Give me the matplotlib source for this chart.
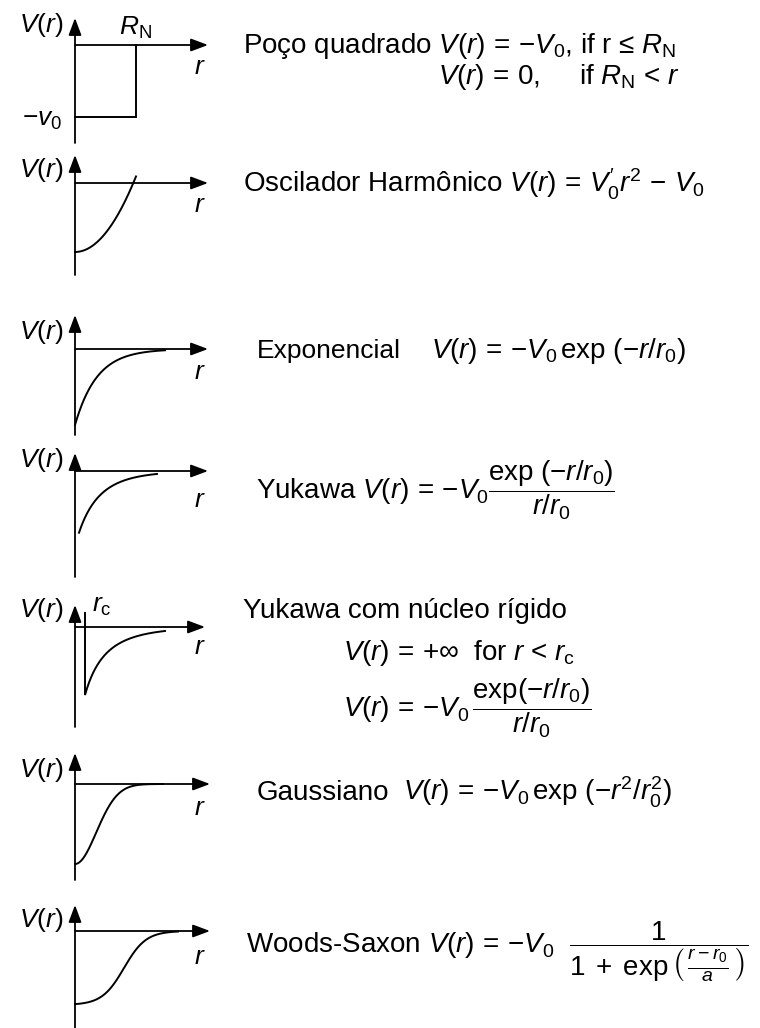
import numpy as np
import matplotlib
matplotlib.use("Agg")
import matplotlib.pyplot as plt

plt.rcParams["font.family"] = ["Liberation Sans", "DejaVu Sans"]
plt.rcParams["mathtext.fontset"] = "custom"
plt.rcParams["mathtext.rm"] = "Liberation Sans"
plt.rcParams["mathtext.it"] = "Liberation Sans:italic"
plt.rcParams["mathtext.bf"] = "Liberation Sans:bold"
plt.rcParams["mathtext.sf"] = "Liberation Sans"

W, H = 760, 1028

# potential parameters (sketch units: r to the right of the V axis, V above the r axis)
well_v0, well_rn = 72, 61
osc_v0, osc_rzero, osc_rmax = 69, 58.3, 61
exp_v0, exp_r0, exp_rmax = 76, 22, 90
yuk_v0, yuk_r0, yuk_offset, yuk_rmin, yuk_rmax = 220, 38.6, 40, 4, 82
core_v0, core_r0, core_offset, core_rc, core_rmax, core_wall = 69.9, 52, 20, 10, 90, 14
gauss_v0, gauss_r0, gauss_rmax = 80, 30, 88
ws_v0, ws_r0, ws_a, ws_rmax = 74, 49, 11, 103

# panel frames in figure pixels
axis_x = 75
panel_top = [18, 155, 315, 453, 605, 753, 905]
panel_zero = [45, 183, 349, 471, 627, 784, 931]
panel_bottom = [143, 275, 435, 577, 727, 880, 1028]
panel_tip = [208, 208, 208, 208, 205, 210, 210]
vlabel_y = [25, 170, 332, 460, 610, 770, 920]
rlabel_y = [67, 205, 372, 500, 647, 808, 957]

EQ = r"\,=\,"
# equations: (text, x, baseline y, font size)
equations = [
    (r"Poço quadrado $V(r)" + EQ + r"{-}V_0$, if r ≤ $R_\mathrm{N}$", 243, 53, 20),
    (r"$V(r)" + EQ + r"0$,     if $R_\mathrm{N}$ < $r$", 438, 84, 20),
    (r"Oscilador Harmônico $V(r)" + EQ + r"V^{\prime}_{0}r^{2} \,-\, V_0$", 243, 193, 20),
    (r"Exponencial", 257, 358, 19),
    (r"$V(r)" + EQ + r"{-}V_0\,\exp\,({-}r/r_0)$", 431, 358, 20),
    (r"Yukawa $V(r)" + EQ + r"{-}V_0\dfrac{\exp\,({-}r/r_0)}{r/r_0}$", 256, 500, 20),
    (r"Yukawa com núcleo rígido", 243, 618, 20),
    (r"$V(r)" + EQ + r"{+}\infty$  for $r$ < $r_\mathrm{c}$", 343, 660, 20),
    (r"$V(r)" + EQ + r"{-}V_0\,\dfrac{\exp({-}r/r_0)}{r/r_0}$", 343, 718, 20),
    (r"Gaussiano", 257, 800, 20),
    (r"$V(r)" + EQ + r"{-}V_0\,\exp\,({-}r^2/r_0^2)$", 403, 800, 20),
    (r"Woods-Saxon $V(r)" + EQ
     + r"{-}V_0\ \ \dfrac{1}{1\;+\;\exp\left(\,\frac{r-r_0}{a}\,\right)}$", 246, 953, 20),
]


def curves():
    out = []
    out.append(([0, well_rn, well_rn], [-well_v0, -well_v0, 0]))
    r = np.linspace(0, osc_rmax, 200)
    out.append((r, osc_v0 * (r / osc_rzero) ** 2 - osc_v0))
    r = np.linspace(0, exp_rmax, 200)
    out.append((r, -exp_v0 * np.exp(-r / exp_r0)))
    r = np.linspace(yuk_rmin, yuk_rmax, 200)
    x = (r + yuk_offset) / yuk_r0
    out.append((r, -yuk_v0 * np.exp(-x) / x))
    r = np.linspace(core_rc, core_rmax, 200)
    x = (r + core_offset) / core_r0
    v = -core_v0 * np.exp(-x) / x
    out.append((np.r_[core_rc, r], np.r_[core_wall, v]))
    r = np.linspace(0, gauss_rmax, 200)
    out.append((r, -gauss_v0 * np.exp(-(r / gauss_r0) ** 2)))
    r = np.linspace(0, ws_rmax, 200)
    out.append((r, -ws_v0 / (1 + np.exp((r - ws_r0) / ws_a))))
    return out


fig = plt.figure(figsize=(W / 100, H / 100), dpi=100)
bg = fig.add_axes([0, 0, 1, 1])
bg.set_xlim(0, W)
bg.set_ylim(H, 0)
bg.axis("off")

arrow = dict(arrowstyle="-|>,head_length=0.8,head_width=0.3", mutation_scale=13,
             color="black", lw=1.3, shrinkA=0, shrinkB=0)

for i, (rr, vv) in enumerate(curves()):
    top, zero, bot, tip = panel_top[i], panel_zero[i], panel_bottom[i], panel_tip[i]
    ax = fig.add_axes([axis_x / W, 1 - bot / H, (tip - axis_x) / W, (bot - top) / H])
    ax.set_xlim(0, tip - axis_x)
    ax.set_ylim(-(bot - zero), zero - top)
    ax.axis("off")
    ax.patch.set_alpha(0)
    ax.annotate("", xy=(0, zero - top), xytext=(0, -(bot - zero)), arrowprops=arrow,
                annotation_clip=False)
    ax.annotate("", xy=(tip - axis_x, 0), xytext=(0, 0), arrowprops=arrow,
                annotation_clip=False)
    ax.plot(rr, vv, color="black", lw=1.4, solid_joinstyle="miter", clip_on=False)

    bg.text(63, vlabel_y[i], r"$V(r)$", fontsize=19, ha="right", va="center")
    bg.text(200, rlabel_y[i], r"$r$", fontsize=19, ha="center", va="center")

bg.text(135, 28, r"$R_\mathrm{N}$", fontsize=19, ha="center", va="center")
bg.text(62, 120, r"$-v_0$", fontsize=19, ha="right", va="center")
bg.text(102, 606, r"$r_\mathrm{c}$", fontsize=19, ha="center", va="center")

for txt, x, y, fs in equations:
    bg.text(x, y, txt, fontsize=fs, ha="left", va="baseline")

fig.savefig("out.png", dpi=100)
